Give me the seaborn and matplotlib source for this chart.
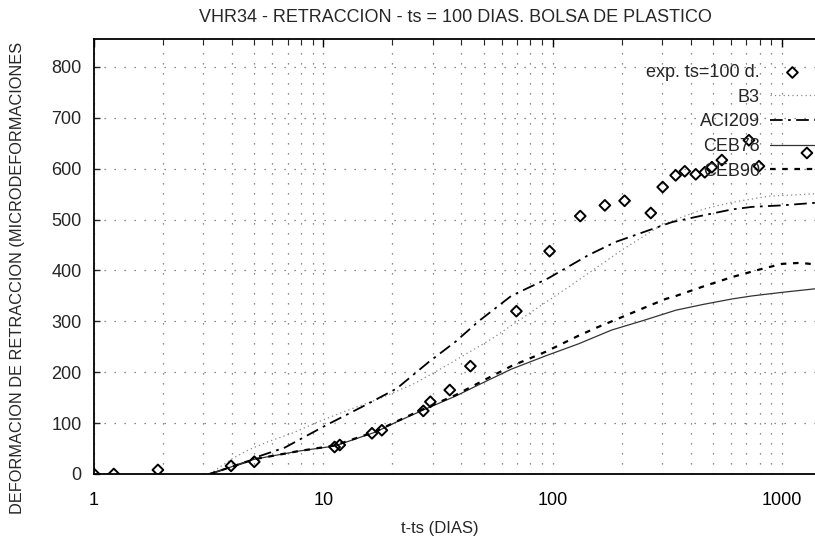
import numpy as np
import pandas as pd
import matplotlib
matplotlib.use("Agg")
import matplotlib.pyplot as plt
import seaborn as sns
from matplotlib.ticker import LogLocator, FixedLocator, NullFormatter, FixedFormatter

# ---------------- data ----------------
exp_x = [1, 1.22, 1.9, 3.96, 5.0, 11.2, 11.8, 16.3, 18.0, 27.3, 29.3, 35.6, 43.8, 69.5, 97,
         132, 169, 206, 268, 302, 344, 377, 421, 461, 495, 547, 718, 794, 1285]
exp_y = [0, 0, 8, 16, 24, 53, 57, 80, 86, 124, 142, 165, 212, 320, 438,
         507, 528, 537, 513, 564, 587, 595, 589, 593, 603, 617, 656, 605, 631]

b3_x = [3.2, 4, 4.7, 5.7, 7.4, 9.2, 12.9, 18, 25, 35, 54, 78, 117, 148, 200, 300, 450, 605, 875, 1300, 1394]
b3_y = [0, 30, 47, 63, 81, 100, 126, 150, 178, 215, 265, 314, 367, 399, 440, 490, 520, 534, 546, 550, 551]

aci_x = [3.2, 4.5, 5.1, 6.8, 10.2, 15.2, 20.9, 28.8, 37.7, 47.5, 66, 96, 143, 188, 255, 331, 450, 605, 740, 1000, 1394]
aci_y = [0, 22, 33, 52, 95, 135, 168, 220, 260, 300, 350, 385, 430, 456, 477, 495, 508, 520, 525, 528, 533]

ceb78_x = [3.2, 5, 7.8, 11.2, 16.8, 20.8, 28, 37.7, 50, 66, 93, 130, 181, 250, 345, 450, 605, 740, 1000, 1394]
ceb78_y = [0, 29, 45, 55, 82, 102, 128, 153, 180, 206, 232, 256, 283, 302, 322, 333, 344, 350, 357, 364]

ceb90_x = [3.2, 5, 7.8, 11.2, 16.8, 20.8, 28, 37.7, 50, 66, 93, 130, 158, 181, 255, 311, 345, 450, 605, 800, 1000, 1200, 1394]
ceb90_y = [0, 29, 45, 56, 83, 103, 130, 155, 184, 212, 240, 272, 289, 300, 328, 344, 350, 368, 387, 402, 413, 415, 412]

labels = ["exp. ts=100 d.", "B3", "ACI209", "CEB78", "CEB90"]
x_ticks = [1, 10, 100, 1000]
x_ticklabels = ["1", "10", "100", "1000"]
y_ticks = [0, 100, 200, 300, 400, 500, 600, 700, 800]

# ---------------- style ----------------
sns.set_style("white")
plt.rcParams['font.family'] = ['Liberation Sans', 'DejaVu Sans']

fig = plt.figure(figsize=(8.15, 5.44), dpi=100)
ax = fig.add_axes([94/815, 70/544, (815-94)/815, (474-39)/544])

sns.lineplot(x=b3_x, y=b3_y, ax=ax, color="#888888", linewidth=0.9,
             linestyle=(0, (1, 2.5)), label=labels[1], estimator=None)
sns.lineplot(x=aci_x, y=aci_y, ax=ax, color="black", linewidth=1.3,
             linestyle=(0, (7, 3, 1.5, 3)), label=labels[2], estimator=None)
sns.lineplot(x=ceb78_x, y=ceb78_y, ax=ax, color="#333333", linewidth=0.9,
             linestyle="-", label=labels[3], estimator=None)
sns.lineplot(x=ceb90_x, y=ceb90_y, ax=ax, color="black", linewidth=1.6,
             linestyle=(0, (2.5, 3)), label=labels[4], estimator=None)
sns.scatterplot(x=exp_x, y=exp_y, ax=ax, marker="D", s=30, facecolors="none",
                edgecolors="black", linewidths=1.4, label=labels[0], zorder=5)

ax.set_xscale("log")
ax.set_xlim(1, 1394)
ax.set_ylim(0, 855)

ax.xaxis.set_major_locator(FixedLocator(x_ticks))
ax.xaxis.set_major_formatter(FixedFormatter(x_ticklabels))
ax.xaxis.set_minor_locator(LogLocator(base=10, subs=np.arange(2, 10)))
ax.xaxis.set_minor_formatter(NullFormatter())
ax.set_yticks(y_ticks)

ax.tick_params(axis="x", which="major", direction="in", length=6, width=1, top=True,
               labelsize=13, pad=13, colors="black")
ax.tick_params(axis="x", which="minor", direction="in", length=4, width=0.8, top=True)
ax.tick_params(axis="y", which="major", direction="in", length=4, width=1, left=True,
               labelsize=13, pad=9)

ax.grid(True, which="major", axis="both", color="#666666", linestyle=(0, (1, 7)), linewidth=0.9)
ax.grid(True, which="minor", axis="x", color="#666666", linestyle=(0, (1, 7)), linewidth=0.9)

for side in ["left", "bottom", "top"]:
    ax.spines[side].set_color("black")
    ax.spines[side].set_linewidth(1.3)
ax.spines["right"].set_visible(False)

ax.set_xlabel("t-ts (DIAS)", fontsize=12)
ax.set_ylabel("DEFORMACION DE RETRACCION (MICRODEFORMACIONES", fontsize=11.8)
ax.xaxis.set_label_coords(0.48, -0.108)
ax.yaxis.set_label_coords(-0.096, 0.45)

fig.text(455/815, 1 - 17/544, "VHR34 - RETRACCION - ts = 100 DIAS. BOLSA DE PLASTICO",
         ha="center", va="center", fontsize=13)

handles, labs = ax.get_legend_handles_labels()
order = [labs.index(l) for l in labels]
leg = ax.legend([handles[i] for i in order], [labs[i] for i in order],
                loc="upper right", bbox_to_anchor=(1.0, 0.942), frameon=False,
                markerfirst=False, fontsize=13, handlelength=2.5, handletextpad=0.55,
                labelspacing=0.42, borderaxespad=0, borderpad=0)

fig.savefig("out.png", dpi=100)
